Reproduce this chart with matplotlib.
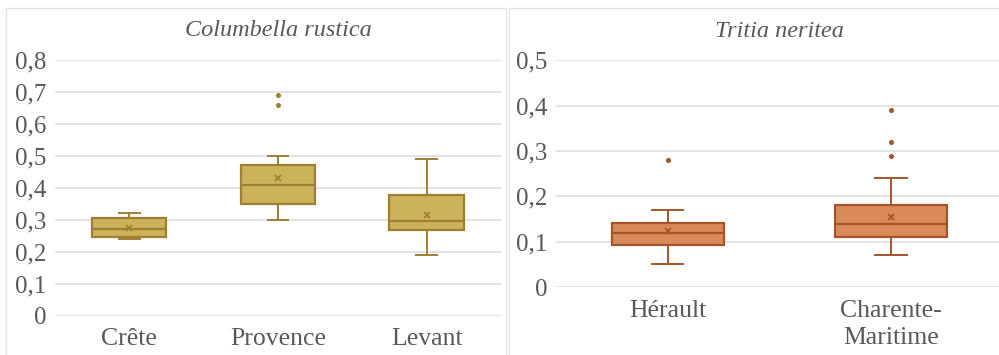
import matplotlib.pyplot as plt
from matplotlib.patches import Rectangle
from matplotlib.ticker import FuncFormatter, MultipleLocator

# Columbella rustica
cr_labels = ['Crête', 'Provence', 'Levant']
cr_low = [0.240, 0.300, 0.190]
cr_q1 = [0.247, 0.351, 0.270]
cr_med = [0.271, 0.409, 0.296]
cr_q3 = [0.307, 0.471, 0.377]
cr_high = [0.322, 0.500, 0.490]
cr_mean = [0.275, 0.431, 0.314]
cr_fliers = [[], [0.66, 0.69], []]

# Tritia neritea
tn_labels = ['Hérault', 'Charente-\nMaritime']
tn_low = [0.051, 0.071]
tn_q1 = [0.093, 0.110]
tn_med = [0.120, 0.140]
tn_q3 = [0.141, 0.180]
tn_high = [0.170, 0.240]
tn_mean = [0.124, 0.154]
tn_fliers = [[0.28], [0.289, 0.319, 0.39]]

plt.rcParams['font.family'] = ['Liberation Serif', 'DejaVu Serif']
txt = '#595959'
grid = '#DDDDDD'


def fmt(v, pos):
    if abs(v) < 1e-9:
        return '0'
    return ('%.1f' % v).replace('.', ',')


def panel(ax, title, labels, low, q1, med, q3, high, mean, fliers, fill, edge, ymax):
    stats = []
    for i in range(len(labels)):
        stats.append(dict(label=labels[i], whislo=low[i], q1=q1[i], med=med[i],
                          q3=q3[i], whishi=high[i], mean=mean[i], fliers=fliers[i]))
    ax.bxp(stats, positions=range(1, len(labels) + 1), widths=0.5, capwidths=0.14,
           patch_artist=True, showmeans=True,
           boxprops=dict(facecolor=fill, edgecolor=edge, linewidth=1.6),
           medianprops=dict(color=edge, linewidth=1.6),
           whiskerprops=dict(color=edge, linewidth=1.4),
           capprops=dict(color=edge, linewidth=1.4),
           meanprops=dict(marker='x', markeredgecolor=edge, markersize=4.5, markeredgewidth=1.3),
           flierprops=dict(marker='o', markerfacecolor=edge, markeredgecolor=edge, markersize=2.6))
    ax.set_xlim(0.5, len(labels) + 0.5)
    ax.set_ylim(0, ymax)
    ax.yaxis.set_major_locator(MultipleLocator(0.1))
    ax.yaxis.set_major_formatter(FuncFormatter(fmt))
    ax.grid(axis='y', color=grid, linewidth=1.1)
    ax.set_axisbelow(True)
    for s in ax.spines.values():
        s.set_visible(False)
    ax.tick_params(length=0, colors=txt)
    ax.tick_params(axis='y', pad=6, labelsize=18)
    ax.tick_params(axis='x', pad=9, labelsize=18.5)
    for t in ax.get_xticklabels():
        t.set_linespacing(1.35)
    ax.set_title(title, style='italic', fontsize=17.5, color=txt, pad=17)


fig = plt.figure(figsize=(9.99, 3.55), dpi=100)
fig.add_artist(Rectangle((6 / 999, -0.1), 500 / 999, 1.1 - 8 / 355, transform=fig.transFigure,
                         fill=False, edgecolor='#E3E3E3', linewidth=1))
fig.add_artist(Rectangle((509 / 999, -0.1), 500 / 999, 1.1 - 8 / 355, transform=fig.transFigure,
                         fill=False, edgecolor='#E3E3E3', linewidth=1))

ax1 = fig.add_axes([0.055, 0.110, 0.4465, 0.721])
ax2 = fig.add_axes([0.5566, 0.1915, 0.447, 0.639])

panel(ax1, 'Columbella rustica', cr_labels, cr_low, cr_q1, cr_med, cr_q3, cr_high, cr_mean,
      cr_fliers, '#CDB25C', '#9E7F33', 0.8)
panel(ax2, 'Tritia neritea', tn_labels, tn_low, tn_q1, tn_med, tn_q3, tn_high, tn_mean,
      tn_fliers, '#DA8A58', '#A5552A', 0.5)

fig.savefig('out.png', dpi=100)
